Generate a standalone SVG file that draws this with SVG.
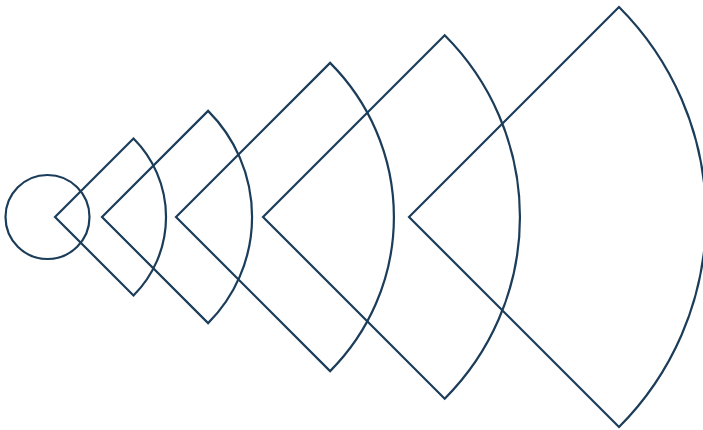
<svg xmlns="http://www.w3.org/2000/svg" width="703" height="430" viewBox="0 0 703 430">
<style>
.s{fill:none;stroke:#1b3d5a;stroke-width:2.2;stroke-linejoin:miter}
</style>
<rect width="703" height="430" fill="#ffffff"/>
<g id="circle"><circle class="s" cx="47.5" cy="217" r="42"/></g>
<g id="sector1"><path class="s" d="M55,217 L133.5,138.5 A111,111 0 0 1 133.5,295.5 Z"/></g>
<g id="sector2"><path class="s" d="M102,217 L208.1,110.9 A150,150 0 0 1 208.1,323.1 Z"/></g>
<g id="sector3"><path class="s" d="M176,217 L330.1,62.9 A218,218 0 0 1 330.1,371.1 Z"/></g>
<g id="sector4"><path class="s" d="M263,217 L444.7,35.3 A257,257 0 0 1 444.7,398.7 Z"/></g>
<g id="sector5"><path class="s" d="M409,217 L619,7 A297,297 0 0 1 619,427 Z"/></g>
</svg>
